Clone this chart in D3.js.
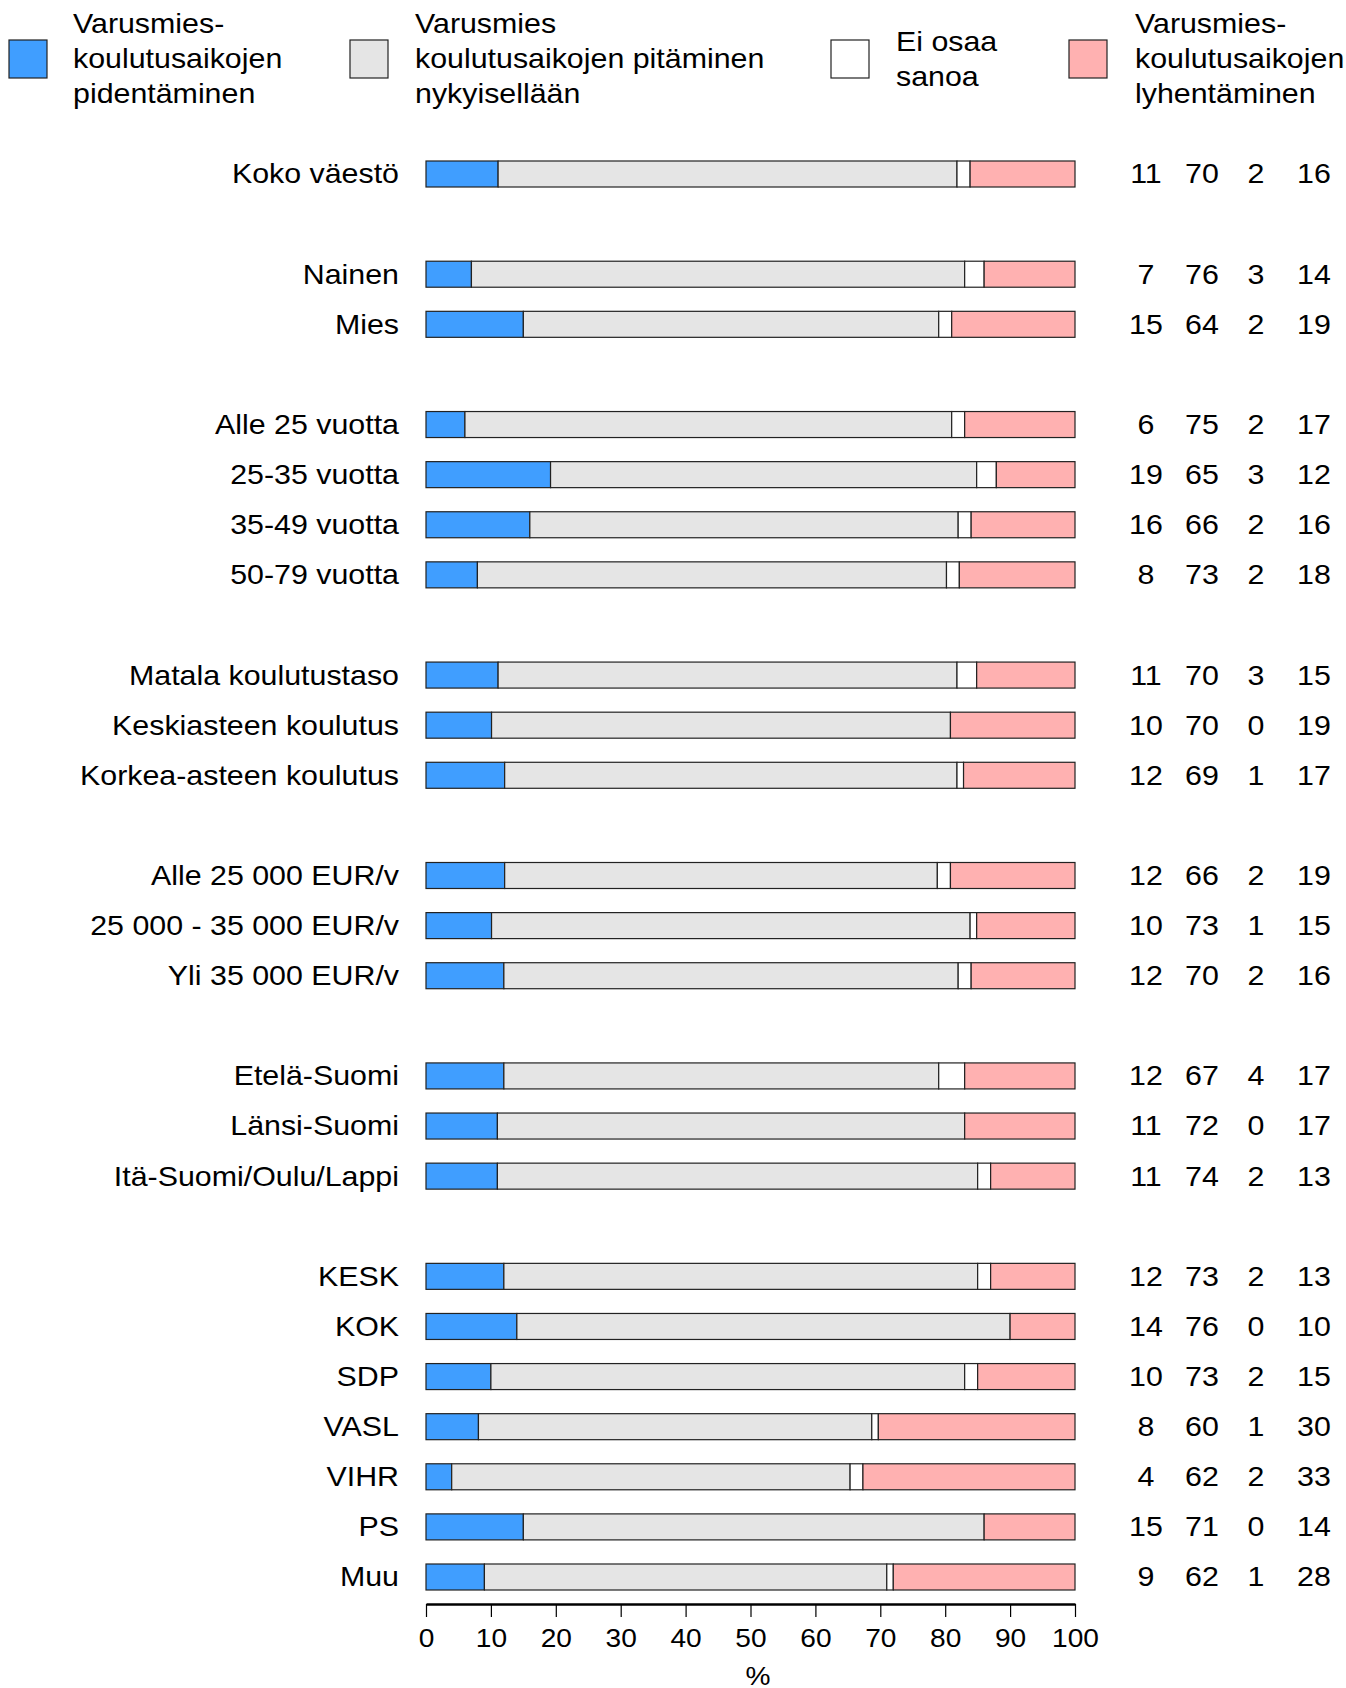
<!DOCTYPE html>
<html>
<head>
<meta charset="utf-8">
<script src="https://cdn.jsdelivr.net/npm/d3@7"></script>
<style>
  body { margin: 0; background: #fff; }
  svg text { font-family: "Liberation Sans", Arial, sans-serif; fill: #000; }
</style>
</head>
<body>
<svg id="chart" width="1346" height="1688"></svg>
<script>
// groups of rows, blank row between groups
const groups = [
    ["Koko väestö"],
    ["Nainen", "Mies"],
    ["Alle 25 vuotta", "25-35 vuotta", "35-49 vuotta", "50-79 vuotta"],
    ["Matala koulutustaso", "Keskiasteen koulutus", "Korkea-asteen koulutus"],
    ["Alle 25 000 EUR/v", "25 000 - 35 000 EUR/v", "Yli 35 000 EUR/v"],
    ["Etelä-Suomi", "Länsi-Suomi", "Itä-Suomi/Oulu/Lappi"],
    ["KESK", "KOK", "SDP", "VASL", "VIHR", "PS", "Muu"]
];

const seriesNames = [
    ["Varusmies-", "koulutusaikojen", "pidentäminen"],
    ["Varusmies", "koulutusaikojen pitäminen", "nykyisellään"],
    ["Ei osaa", "sanoa"],
    ["Varusmies-", "koulutusaikojen", "lyhentäminen"]
];
const colors = ["#409eff", "#e5e5e5", "#ffffff", "#ffb1b1"];

// values per row, same order as groups flattened
const pidentaminen = [11, 7, 15, 6, 19, 16, 8, 11, 10, 12, 12, 10, 12, 12, 11, 11, 12, 14, 10, 8, 4, 15, 9];
const nykyisellaan = [70, 76, 64, 75, 65, 66, 73, 70, 70, 69, 66, 73, 70, 67, 72, 74, 73, 76, 73, 60, 62, 71, 62];
const eiOsaa      = [2, 3, 2, 2, 3, 2, 2, 3, 0, 1, 2, 1, 2, 4, 0, 2, 2, 0, 2, 1, 2, 0, 1];
const lyhentaminen = [16, 14, 19, 17, 12, 16, 18, 15, 19, 17, 19, 15, 16, 17, 17, 13, 13, 10, 15, 30, 33, 14, 28];

const xTicks = [0, 10, 20, 30, 40, 50, 60, 70, 80, 90, 100];

const svg = d3.select("#chart");
const fontSize = 27;
const stretch = 1.125; // text in the original is a bit wider than Arial

// place a text at (x,y) widened horizontally
function placeText(sel, x, y) {
    sel.attr("x", 0).attr("y", 0)
        .attr("transform", "translate(" + x + "," + y + ") scale(" + stretch + ",1)");
    return sel;
}

// build slot list (with spacer rows)
let slots = [];
let rows = [];
groups.forEach(function(g, gi) {
    if (gi > 0) slots.push("gap" + gi);
    g.forEach(function(name) {
        slots.push(name);
        rows.push(name);
    });
});

const x = d3.scaleLinear().domain([0, 100]).range([426, 1075]);
const y = d3.scalePoint().domain(slots).range([174, 1577]);
const barH = 26;

const data = rows.map(function(name, i) {
    let vals = [pidentaminen[i], nykyisellaan[i], eiOsaa[i], lyhentaminen[i]];
    return { name: name, vals: vals };
});

// bars
const rowG = svg.append("g").selectAll("g")
    .data(data)
    .join("g")
    .attr("transform", d => "translate(0," + y(d.name) + ")");

rowG.each(function(d) {
    let total = d3.sum(d.vals);
    let cum = 0;
    let segs = d.vals.map(function(v, k) {
        let s = { k: k, x0: cum / total * 100, x1: (cum + v) / total * 100 };
        cum += v;
        return s;
    });
    d3.select(this).selectAll("rect")
        .data(segs)
        .join("rect")
        .attr("x", s => x(s.x0))
        .attr("width", s => x(s.x1) - x(s.x0))
        .attr("y", -barH / 2)
        .attr("height", barH)
        .attr("fill", s => colors[s.k])
        .attr("stroke", "#222")
        .attr("stroke-width", 1.2);
});

// row labels
rowG.append("text")
    .call(placeText, 399, 0)
    .attr("dy", "0.35em")
    .attr("text-anchor", "end")
    .style("font-size", fontSize + "px")
    .text(d => d.name);

// number columns
const colX = [1146, 1202, 1256, 1314];
rowG.each(function(d) {
    d3.select(this).selectAll("text.num")
        .data(d.vals)
        .join("text")
        .attr("class", "num")
        .each(function(v, k) { placeText(d3.select(this), colX[k], 0); })
        .attr("dy", "0.35em")
        .attr("text-anchor", "middle")
        .style("font-size", fontSize + "px")
        .text(v => v);
});

// x axis
const axisY = 1604;
const axisG = svg.append("g")
    .attr("transform", "translate(0," + axisY + ")")
    .call(d3.axisBottom(x).tickValues(xTicks).tickSize(13).tickSizeOuter(0).tickPadding(12));
axisG.select(".domain").attr("stroke", "#000").attr("stroke-width", 2.5);
axisG.selectAll(".tick line").attr("stroke", "#000").attr("stroke-width", 1.2);
axisG.selectAll(".tick text")
    .attr("transform", "scale(" + stretch + ",1)")
    .style("font-size", "25px")
    .style("font-family", "'Liberation Sans', Arial, sans-serif")
    .attr("fill", "#222");

svg.append("text")
    .call(placeText, 758, 1685)
    .attr("text-anchor", "middle")
    .style("font-size", "25px")
    .attr("fill", "#222")
    .text("%");

// legend
const legendItems = [
    { box: 9, text: 73 },
    { box: 350, text: 415 },
    { box: 831, text: 896 },
    { box: 1069, text: 1135 }
];
const lineH = 35;
legendItems.forEach(function(item, i) {
    let lg = svg.append("g");
    lg.append("rect")
        .attr("x", item.box)
        .attr("y", 40)
        .attr("width", 38)
        .attr("height", 38)
        .attr("fill", colors[i])
        .attr("stroke", "#222")
        .attr("stroke-width", 1.2);
    let lines = seriesNames[i];
    let startY = 59 - (lines.length - 1) / 2 * lineH;
    lines.forEach(function(l, j) {
        lg.append("text")
            .call(placeText, item.text, startY + j * lineH)
            .attr("dy", "0.35em")
            .style("font-size", fontSize + "px")
            .text(l);
    });
});
</script>
</body>
</html>
